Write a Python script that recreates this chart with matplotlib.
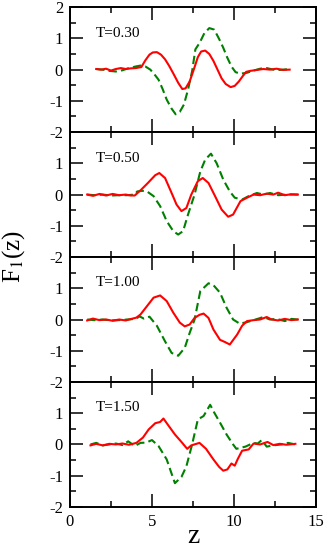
import matplotlib
matplotlib.use("Agg")
import matplotlib.pyplot as plt
from matplotlib.ticker import MultipleLocator

plt.rcParams['font.family'] = ['Liberation Serif', 'DejaVu Serif']
plt.rcParams['axes.unicode_minus'] = False
plt.rcParams['mathtext.fontset'] = 'stix'

temps = ["T=0.30", "T=0.50", "T=1.00", "T=1.50"]

# T=0.30
r1x = [1.6, 1.9, 2.2, 2.5, 2.8, 3.1, 3.4, 3.7, 4.0, 4.35, 4.6, 4.85, 5.05, 5.3, 5.55, 5.8, 6.05, 6.3, 6.6, 6.85,
       7.05, 7.3, 7.55, 7.8, 8.0, 8.25, 8.5, 8.75, 9.0, 9.25, 9.5, 9.8, 10.05, 10.3, 10.55, 10.75, 11.0, 11.4, 11.8, 12.2,
       12.6, 13.0, 13.4]
r1y = [0.02, 0.0, 0.03, -0.03, 0.02, 0.05, 0.02, 0.04, 0.05, 0.08, 0.3, 0.48, 0.55, 0.56, 0.48, 0.33, 0.12, -0.12, -0.42, -0.62,
       -0.6, -0.38, 0.0, 0.4, 0.58, 0.61, 0.5, 0.28, 0.0, -0.28, -0.46, -0.56, -0.52, -0.38, -0.2, -0.07, -0.04, -0.01, 0.02, 0.0,
       0.03, -0.01, 0.0]
g1x = [1.6, 2.0, 2.4, 2.8, 3.2, 3.6, 4.0, 4.3, 4.6, 4.9, 5.15, 5.4, 5.65, 5.9, 6.2, 6.45, 6.7, 6.95, 7.2, 7.45,
       7.65, 7.9, 8.2, 8.5, 8.8, 9.1, 9.35, 9.6, 9.85, 10.1, 10.4, 10.8, 11.2, 11.6, 12.0, 12.4, 12.8, 13.2, 13.4]
g1y = [0.02, 0.0, -0.04, -0.06, -0.02, 0.05, 0.1, 0.13, 0.1, 0.0, -0.15, -0.32, -0.62, -0.96, -1.25, -1.43, -1.35, -1.12, -0.64, -0.05,
       0.65, 0.85, 1.17, 1.33, 1.28, 0.98, 0.7, 0.38, 0.1, -0.08, -0.13, -0.1, -0.03, 0.03, 0.05, 0.0, -0.01, 0.01, 0.0]

# T=0.50
r2x = [1.05, 1.4, 1.8, 2.2, 2.6, 3.0, 3.4, 3.7, 3.95, 4.35, 4.75, 5.2, 5.45, 5.8, 6.2, 6.5, 6.8, 7.1, 7.4, 7.8,
       8.1, 8.45, 8.85, 9.25, 9.65, 9.95, 10.4, 10.8, 11.2, 11.6, 12.0, 12.4, 12.7, 13.1, 13.5, 13.9]
r2y = [0.0, -0.04, 0.02, -0.03, 0.02, -0.02, 0.0, -0.03, -0.03, 0.16, 0.37, 0.62, 0.69, 0.53, 0.05, -0.32, -0.53, -0.43, 0.0, 0.43,
       0.53, 0.37, -0.05, -0.48, -0.71, -0.64, -0.21, -0.1, 0.0, -0.02, 0.03, 0.0, 0.06, -0.02, 0.01, 0.0]
g2x = [1.05, 1.5, 2.0, 2.5, 3.0, 3.5, 3.95, 4.1, 4.4, 4.7, 5.1, 5.5, 5.9, 6.3, 6.6, 6.9, 7.2, 7.6, 7.95, 8.25,
       8.6, 8.95, 9.35, 9.75, 10.05, 10.5, 10.9, 11.4, 11.8, 12.2, 12.7, 13.3, 13.9]
g2y = [0.0, -0.02, 0.0, -0.03, -0.02, -0.02, 0.0, 0.1, 0.12, 0.1, -0.05, -0.37, -0.85, -1.17, -1.28, -1.17, -0.64, 0.0, 0.74, 1.12,
       1.31, 1.0, 0.48, 0.1, -0.1, -0.16, -0.05, 0.05, 0.0, 0.05, -0.02, 0.0, 0.0]

# T=1.00
r3x = [1.05, 1.4, 1.8, 2.2, 2.6, 3.0, 3.4, 3.75, 4.05, 4.3, 4.7, 5.1, 5.5, 5.9, 6.3, 6.7, 7.0, 7.3, 7.6, 7.9,
       8.15, 8.45, 8.75, 9.15, 9.45, 9.75, 10.2, 10.5, 10.8, 11.2, 11.6, 12.0, 12.3, 12.7, 13.1, 13.5, 13.9]
r3y = [-0.03, 0.03, -0.02, 0.0, -0.04, 0.0, -0.03, 0.02, 0.06, 0.16, 0.43, 0.7, 0.77, 0.59, 0.22, -0.1, -0.22, -0.16, 0.05, 0.15,
       0.19, 0.05, -0.32, -0.65, -0.72, -0.8, -0.48, -0.2, -0.05, -0.02, 0.0, 0.08, 0.0, -0.03, 0.02, -0.02, 0.0]
g3x = [1.05, 1.5, 2.0, 2.5, 3.0, 3.5, 4.0, 4.25, 4.5, 4.85, 5.3, 5.8, 6.2, 6.6, 7.0, 7.3, 7.6, 7.95, 8.45, 8.75,
       9.15, 9.55, 9.95, 10.35, 10.75, 11.2, 11.8, 12.2, 12.6, 13.1, 13.5, 13.9]
g3y = [0.0, -0.02, 0.0, -0.03, -0.02, 0.0, 0.02, 0.1, 0.03, 0.09, -0.2, -0.7, -1.07, -1.16, -0.91, -0.43, 0.0, 0.91, 1.16, 1.1,
       0.86, 0.38, 0.0, -0.13, -0.09, -0.02, 0.08, 0.0, 0.02, -0.05, 0.02, 0.0]

# T=1.50
r4x = [1.25, 1.6, 2.0, 2.4, 2.8, 3.2, 3.6, 4.05, 4.45, 4.8, 5.2, 5.5, 5.7, 6.0, 6.4, 6.8, 7.15, 7.4, 7.9, 8.3,
       8.75, 9.1, 9.35, 9.6, 9.85, 10.05, 10.25, 10.5, 10.9, 11.2, 11.6, 12.05, 12.4, 12.8, 13.2, 13.75]
r4y = [-0.03, 0.02, -0.03, 0.02, 0.0, 0.03, -0.01, 0.05, 0.22, 0.48, 0.68, 0.72, 0.83, 0.61, 0.32, 0.08, -0.14, -0.03, 0.05, -0.14,
       -0.48, -0.72, -0.84, -0.8, -0.61, -0.68, -0.45, -0.2, -0.16, 0.03, 0.0, 0.08, -0.02, 0.02, -0.01, 0.02]
g4x = [1.25, 1.6, 2.0, 2.4, 2.8, 3.2, 3.55, 3.95, 4.3, 4.65, 5.0, 5.4, 5.9, 6.4, 6.8, 7.1, 7.45, 7.8, 8.15, 8.55,
       8.8, 9.15, 9.55, 9.95, 10.15, 10.7, 11.2, 11.45, 11.7, 12.0, 12.4, 12.9, 13.3, 13.75]
g4y = [0.0, 0.05, -0.03, 0.0, 0.03, -0.02, 0.1, -0.05, 0.05, 0.06, 0.14, -0.05, -0.48, -1.24, -1.04, -0.7, 0.0, 0.8, 0.91, 1.27,
       1.02, 0.7, 0.32, 0.0, -0.14, -0.07, 0.05, 0.03, 0.14, -0.07, -0.03, 0.0, 0.05, 0.0]

reds = [(r1x, r1y), (r2x, r2y), (r3x, r3y), (r4x, r4y)]
greens = [(g1x, g1y), (g2x, g2y), (g3x, g3y), (g4x, g4y)]

fig, axes = plt.subplots(4, 1, sharex=True, figsize=(3.27, 5.51), dpi=100)
fig.subplots_adjust(left=0.214, right=0.966, top=0.987, bottom=0.08, hspace=0)

for i, ax in enumerate(axes):
    ax.plot(greens[i][0], greens[i][1], color="#008000", lw=1.5, dashes=(4, 2))
    ax.plot(reds[i][0], reds[i][1], color="#ff0000", lw=1.5)
    ax.set_xlim(0, 15)
    ax.set_ylim(-2, 2)
    ax.text(1.55, 1.17, temps[i], fontsize=11, va="center", ha="left")
    ax.xaxis.set_major_locator(MultipleLocator(5))
    ax.xaxis.set_minor_locator(MultipleLocator(2.5))
    ax.yaxis.set_major_locator(MultipleLocator(1))
    ax.yaxis.set_minor_locator(MultipleLocator(0.5))
    ax.tick_params(which="both", direction="in", top=True, right=True, width=1.1, labelsize=12, pad=5)
    ax.tick_params(which="major", length=9.5)
    ax.tick_params(which="minor", length=4.5)
    for s in ax.spines.values():
        s.set_linewidth(1.4)
    ax.set_yticks([-2, -1, 0, 1, 2])
    if i == 0:
        ax.set_yticklabels(["-2", "-1", "0", "1", "2"])
    else:
        ax.set_yticklabels(["-2", "-1", "0", "1", ""])

axes[-1].set_xticks([0, 5, 10, 15])
axes[-1].set_xticklabels(["0", "5", "10", "15"])
axes[-1].set_xlabel("z", fontsize=20, labelpad=-4)
fig.text(0.04, 0.535, r"F$_1$(z)", fontsize=18, rotation=90, ha="center", va="center")

fig.savefig("out.png", dpi=100)
